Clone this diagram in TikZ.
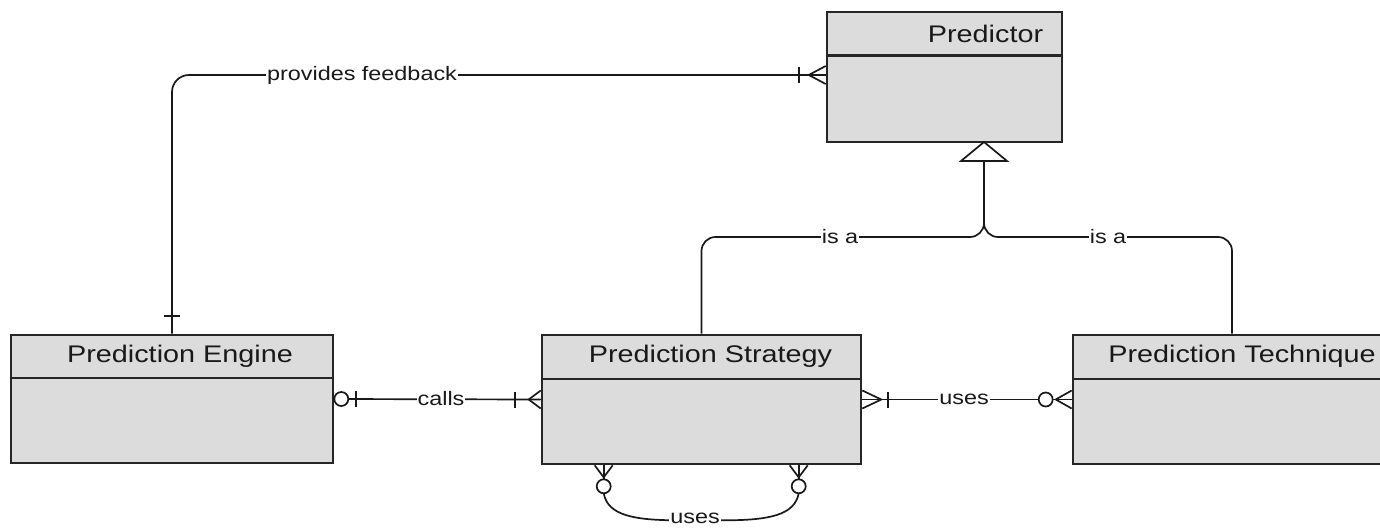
\documentclass[tikz,border=0pt]{standalone}
\usepackage{fontspec}
\setmainfont{Liberation Sans}[FakeStretch=1.2]
\usetikzlibrary{calc}
\definecolor{boxgray}{RGB}{220,220,220}
\tikzset{
  entity/.style={draw=black!85, line width=2.6pt, fill=boxgray, inner sep=0pt},
  divider/.style={draw=black!85, line width=2.4pt},
  head/.style={inner sep=0pt, font=\fontsize{24}{28}\selectfont, text=black!90},
  rel/.style={draw=black!90, line width=1.7pt},
  lbl/.style={fill=white, inner sep=1pt, font=\fontsize{19.5}{22}\selectfont, text=black!90},
  % ER end symbols, drawn along local +x away from the entity edge
  crow/.pic={\draw[rel] (0,-9) -- (#1,0) -- (0,9); \draw[rel] (0,0) -- (#1,0);},
  bar/.pic={\draw[rel] (#1,-8) -- (#1,8);},
  ring/.pic={\draw[rel, fill=white] (#1,0) circle[radius=7pt];}
}
\begin{document}
\begin{tikzpicture}[x=1pt, y=-1pt]
\useasboundingbox (0,0) rectangle (1380,527);

\coordinate (gen) at (984,142);
\coordinate (joint) at (984,237);

% entities
\node[entity, minimum width=235, minimum height=130] (pred) at (944.5,77) {};
\node[entity, minimum width=322, minimum height=128] (eng) at (172,399) {};
\node[entity, minimum width=319, minimum height=129] (strat) at (701.5,399.5) {};
\node[entity, minimum width=318, minimum height=129] (tech) at (1232,399.5) {};

\draw[divider] ($(pred.north west)+(0,45)$) -- ($(pred.north east)+(0,45)$);
\draw[divider] ($(eng.north west)+(0,44)$) -- ($(eng.north east)+(0,44)$);
\draw[divider] ($(strat.north west)+(0,45)$) -- ($(strat.north east)+(0,45)$);
\draw[divider] ($(tech.north west)+(0,45)$) -- ($(tech.north east)+(0,45)$);

\node[head] (predT) at ($(pred.north)+(41,23)$) {Predictor};
\node[head] (engT) at ($(eng.north)+(8,23)$) {Prediction Engine};
\node[head] (stratT) at ($(strat.north)+(9,23)$) {Prediction Strategy};
\node[head] (techT) at ($(tech.north)+(10,23)$) {Prediction Technique};

% provides feedback
\draw[rel, rounded corners=17] (eng.north) |- ($(pred.west)+(0,-2)$);
\pic[rotate=90] at (eng.north) {bar=18};
\pic[rotate=180] at ($(pred.west)+(0,-2)$) {crow=17};
\pic[rotate=180] at ($(pred.west)+(0,-2)$) {bar=27};
\node[lbl] (fbL) at (362,75) {provides feedback};

% calls
\draw[rel] (eng.east) -- (strat.west);
\pic at (eng.east) {ring=7};
\pic at (eng.east) {bar=22};
\pic[rotate=180] at (strat.west) {crow=12};
\pic[rotate=180] at (strat.west) {bar=26};
\node[lbl] (callsL) at (441,399) {calls};

% uses (strategy - technique)
\draw[rel] (strat.east) -- (tech.west);
\pic at (strat.east) {crow=19};
\pic at (strat.east) {bar=26};
\pic[rotate=180] at (tech.west) {crow=16};
\pic[rotate=180] at (tech.west) {ring=26};
\node[lbl] (usesL) at (964,399) {uses};

% generalisation
\draw[rel, rounded corners=14] (strat.north) |- (joint) -- ($(gen)+(0,19)$);
\draw[rel, rounded corners=14] (tech.north) |- (joint) -- ($(gen)+(0,19)$);
\draw[rel, fill=white, line join=miter] (gen) -- ++(-23,19) -- ++(46,0) -- cycle;
\node[lbl] (isaL) at (840,237) {is a};
\node[lbl] (isaR) at (1108,237) {is a};

% recursive uses on the strategy
\coordinate (la) at ($(strat.south west)+(63,0)$);
\coordinate (lb) at ($(strat.south west)+(258,0)$);
\draw[rel] (la) -- ++(0,22);
\draw[rel] (lb) -- ++(0,22);
\draw[rel] ($(la)+(0,28)$) .. controls ($(la)+(4,50)$) and ($(la)+(30,55)$) .. ($(la)+(75,55)$)
  -- ($(lb)+(-75,55)$) .. controls ($(lb)+(-30,55)$) and ($(lb)+(-4,50)$) .. ($(lb)+(0,28)$);
\pic[rotate=-90] at (la) {crow=12};
\pic[rotate=-90] at (la) {ring=21};
\pic[rotate=-90] at (lb) {crow=12};
\pic[rotate=-90] at (lb) {ring=21};
\node[lbl] (loopL) at (695,518) {uses};
\end{tikzpicture}
\end{document}
